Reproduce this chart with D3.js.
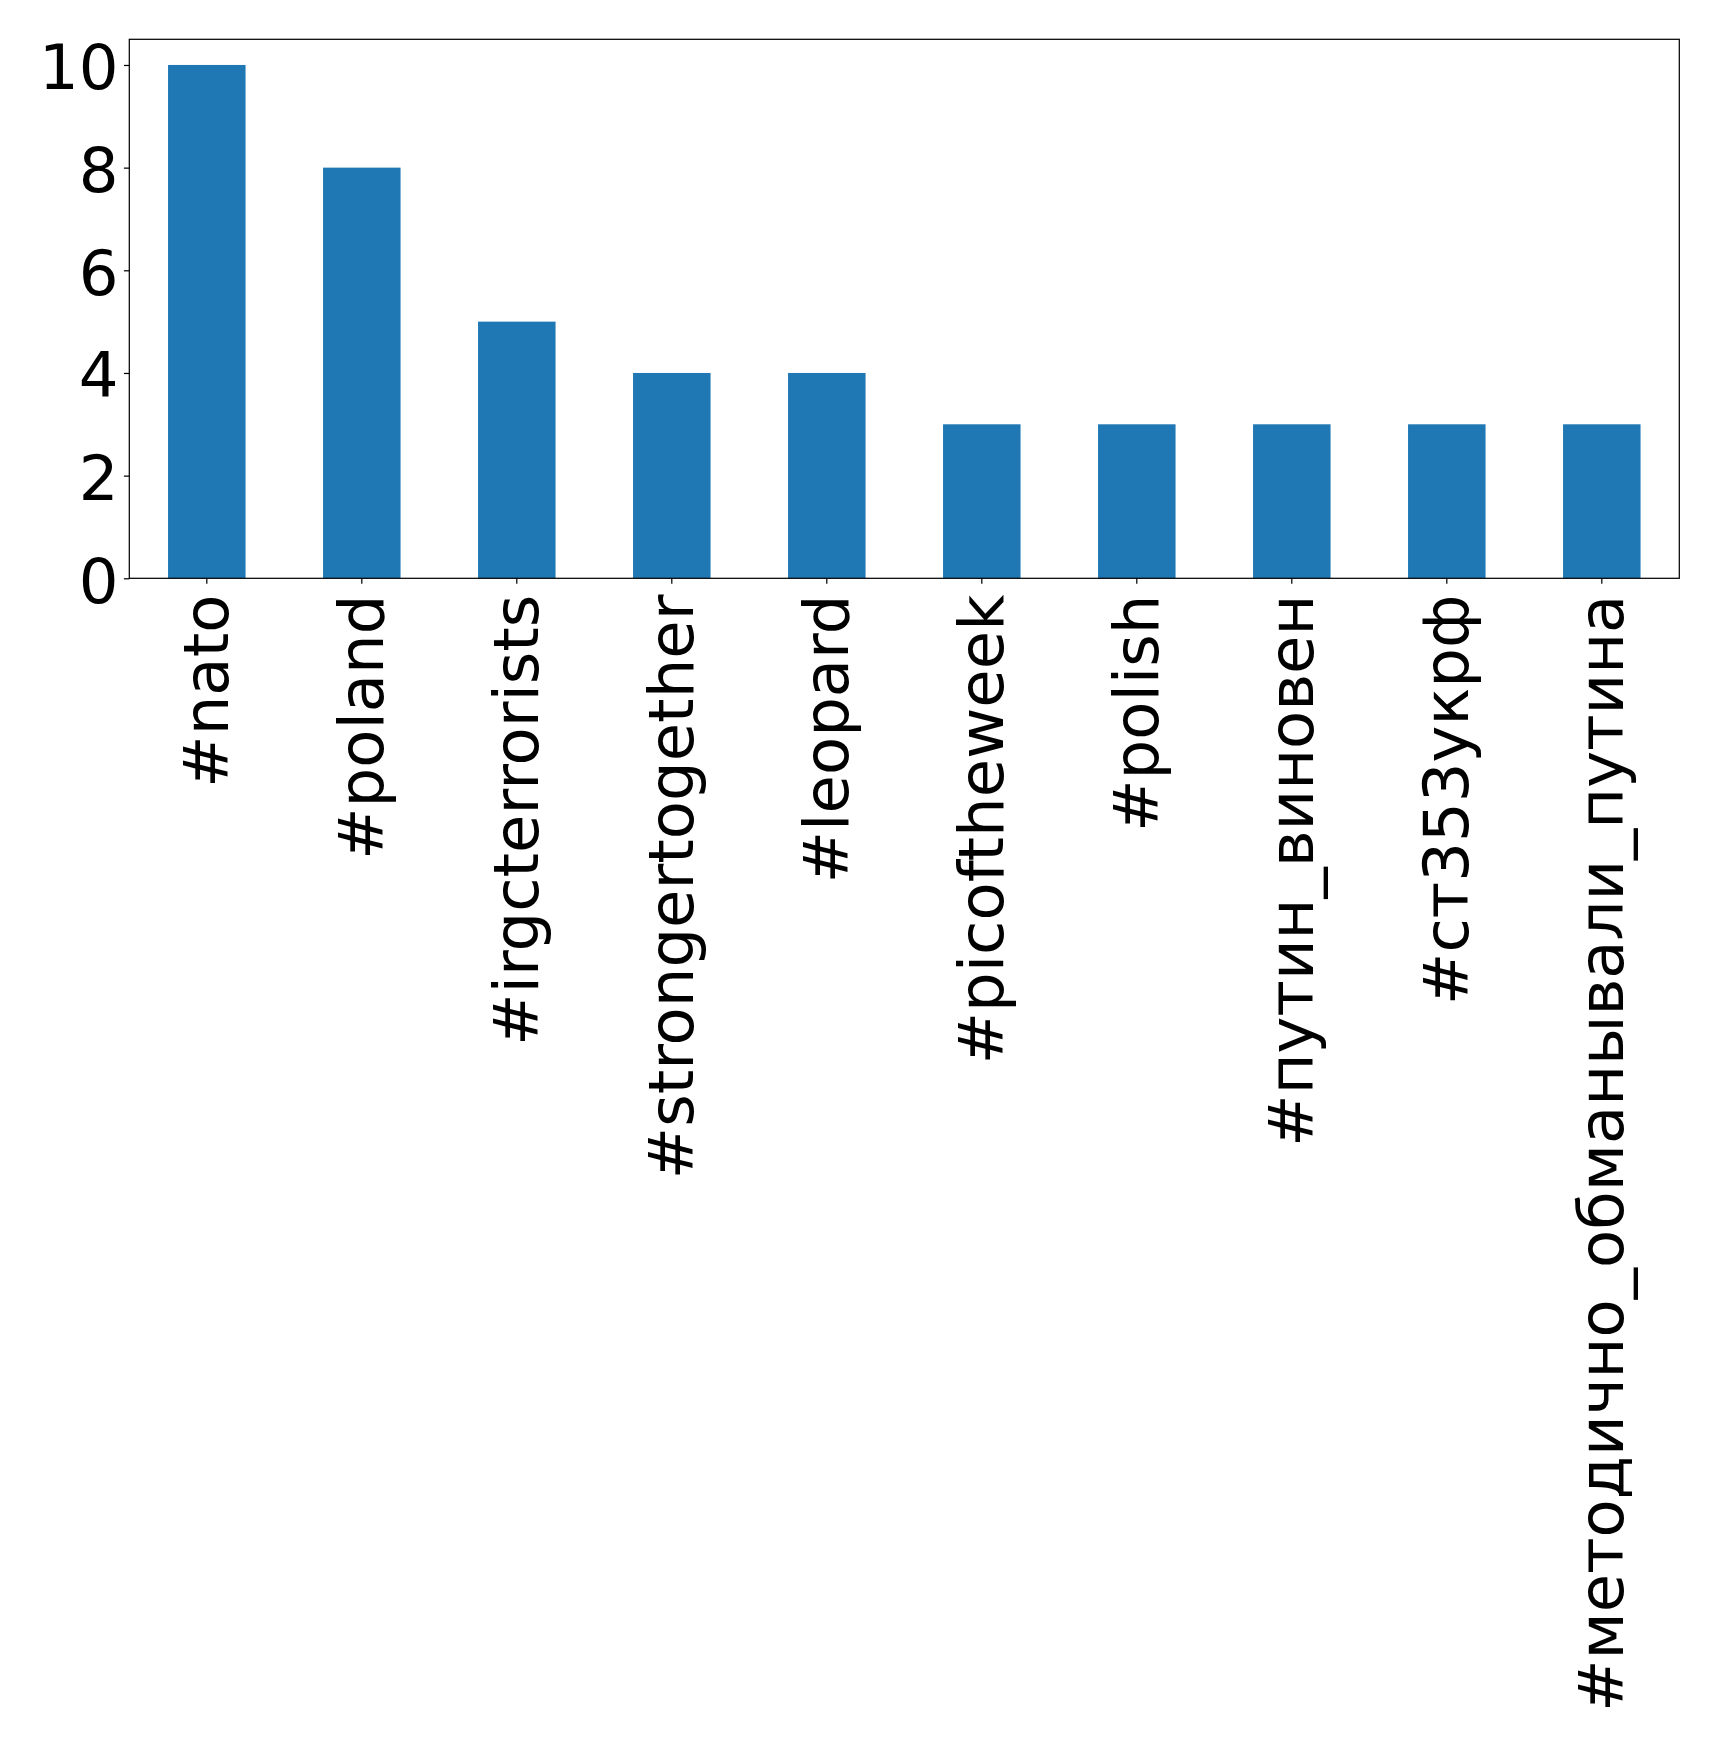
<!DOCTYPE html>
<html>
<head>
<meta charset="utf-8">
<script src="https://cdn.jsdelivr.net/npm/d3@7"></script>
<style>
  html, body { margin: 0; padding: 0; background: #ffffff; }
  svg { display: block; }
</style>
</head>
<body>
<div id="chart"></div>
<script>
const categories = ["#nato", "#poland", "#irgcterrorists", "#strongertogether", "#leopard",
  "#picoftheweek", "#polish", "#путин_виновен", "#ст353укрф", "#методично_обманывали_путина"];
const counts = [10, 8, 5, 4, 4, 3, 3, 3, 3, 3];
const yTicks = [0, 2, 4, 6, 8, 10];

(function () {
const W = 1719, H = 1744;
const mLeft = 129.3, mRight = 1679.3, mTop = 39.3, mBottom = 578.3;
const fontPx = 62.5, tickLen = 5.4, tickPad = 5.4, lw = 1.23;

const svg = d3.select("#chart").append("svg")
  .attr("width", W).attr("height", H)
  .style("background", "#ffffff");

const x = d3.scaleBand().domain(categories).range([mLeft, mRight])
  .paddingInner(0.5).paddingOuter(0.25);
const y = d3.scaleLinear().domain([0, 10.5]).range([mBottom, mTop]);

// bars
svg.append("g").selectAll("rect")
  .data(categories.map((c, i) => ({ c, v: counts[i] })))
  .join("rect")
  .attr("x", d => x(d.c))
  .attr("width", x.bandwidth())
  .attr("y", d => y(d.v))
  .attr("height", d => y(0) - y(d.v))
  .attr("fill", "#1f77b4");

// y axis
const yAxis = svg.append("g")
  .attr("transform", `translate(${mLeft},0)`)
  .call(d3.axisLeft(y).tickValues(yTicks).tickFormat(d3.format("d"))
    .tickSize(tickLen).tickPadding(tickPad).tickSizeOuter(0));
yAxis.select(".domain").remove();
yAxis.selectAll(".tick line").attr("stroke", "#000").attr("stroke-width", lw);
yAxis.selectAll(".tick text")
  .attr("fill", "#000")
  .attr("dy", "0.38em")
  .style("font-family", "'DejaVu Sans', sans-serif")
  .style("font-size", fontPx + "px");

// x axis
const xAxis = svg.append("g")
  .attr("transform", `translate(0,${mBottom})`)
  .call(d3.axisBottom(x).tickSize(tickLen).tickPadding(tickPad).tickSizeOuter(0));
xAxis.select(".domain").remove();
xAxis.selectAll(".tick line").attr("stroke", "#000").attr("stroke-width", lw);
xAxis.selectAll(".tick text")
  .attr("fill", "#000")
  .attr("y", 0)
  .attr("dy", "0.34em")
  .attr("text-anchor", "end")
  .attr("transform", `translate(0,${tickLen + tickPad + 5.5}) rotate(-90)`)
  .style("font-family", "'DejaVu Sans', sans-serif")
  .style("font-size", fontPx + "px");

// frame
svg.append("rect")
  .attr("x", mLeft).attr("y", mTop)
  .attr("width", mRight - mLeft).attr("height", mBottom - mTop)
  .attr("fill", "none").attr("stroke", "#000").attr("stroke-width", lw);
})();
</script>
</body>
</html>
